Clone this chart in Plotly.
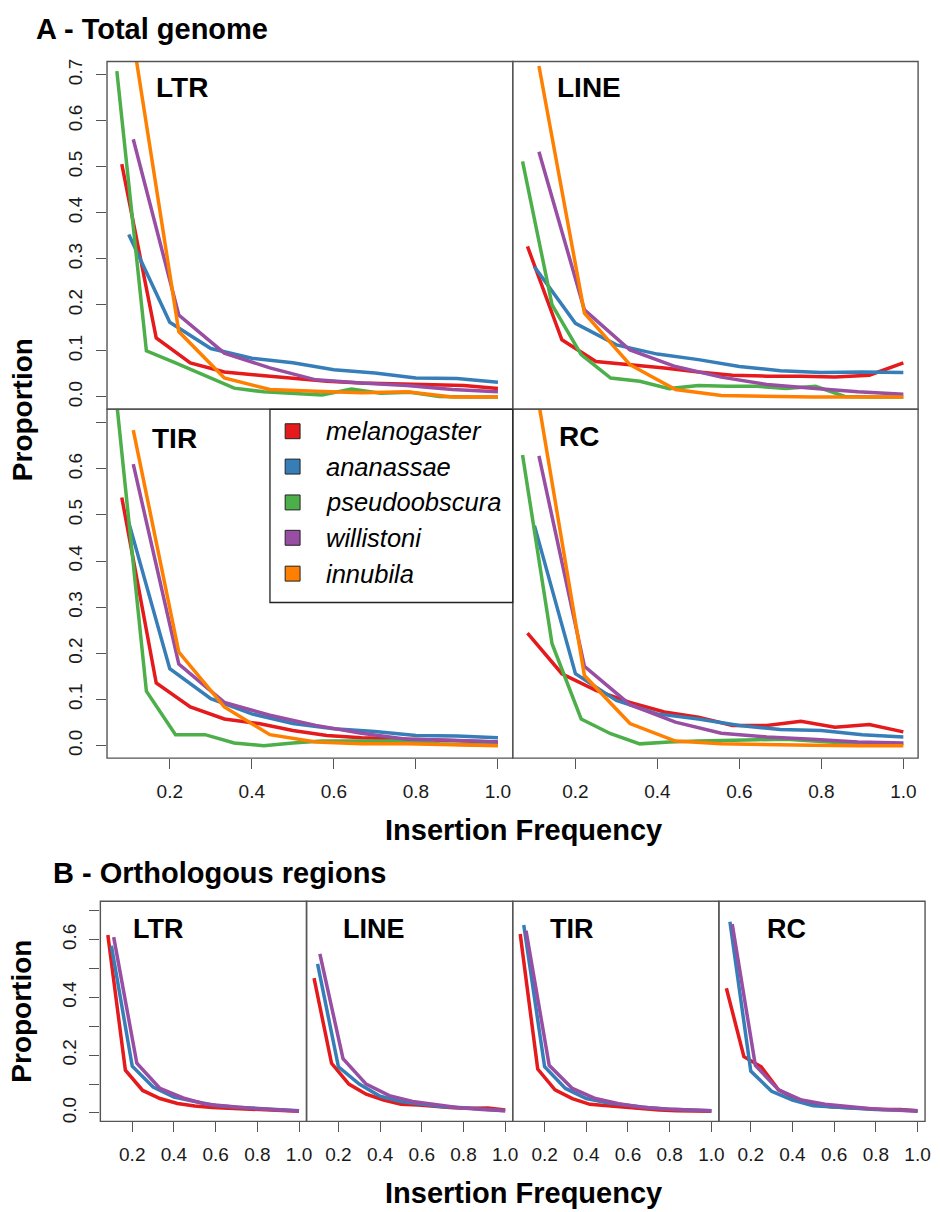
import plotly.graph_objects as go

W, H = 940, 1212

species = ["melanogaster", "ananassae", "pseudoobscura", "willistoni", "innubila"]
colors = ["#E41A1C", "#377EB8", "#4DAF4A", "#984EA3", "#FF7F00"]

# insertion-frequency bins per species (different numbers of strains)
freq_mel = [0.083, 0.167, 0.250, 0.333, 0.417, 0.500, 0.583, 0.667, 0.750, 0.833, 0.917, 1.000]
freq_ana = [0.1, 0.2, 0.3, 0.4, 0.5, 0.6, 0.7, 0.8, 0.9, 1.0]
freq_pse = [0.071, 0.143, 0.214, 0.286, 0.357, 0.429, 0.500, 0.571, 0.643, 0.714, 0.786, 0.857, 0.929, 1.000]
freq_wil = [0.111, 0.222, 0.333, 0.444, 0.556, 0.667, 0.778, 0.889, 1.000]
freq_inn = [0.111, 0.222, 0.333, 0.444, 0.556, 0.667, 0.778, 0.889, 1.000]

# ---------------- A - Total genome ----------------
ltr_mel = [0.506, 0.128, 0.074, 0.054, 0.047, 0.040, 0.034, 0.030, 0.028, 0.027, 0.025, 0.018]
ltr_ana = [0.353, 0.162, 0.105, 0.084, 0.074, 0.059, 0.052, 0.041, 0.040, 0.032]
ltr_pse = [0.708, 0.100, 0.074, 0.047, 0.019, 0.011, 0.008, 0.004, 0.017, 0.008, 0.010, 0.001, 0.0, 0.0]
ltr_wil = [0.560, 0.178, 0.095, 0.063, 0.037, 0.030, 0.025, 0.016, 0.011]
ltr_inn = [0.775, 0.142, 0.041, 0.016, 0.012, 0.009, 0.011, 0.0, 0.0]

line_mel = [0.327, 0.124, 0.077, 0.070, 0.063, 0.054, 0.047, 0.045, 0.045, 0.043, 0.047, 0.074]
line_ana = [0.283, 0.160, 0.113, 0.093, 0.081, 0.066, 0.057, 0.053, 0.054, 0.053]
line_pse = [0.512, 0.200, 0.092, 0.041, 0.034, 0.018, 0.025, 0.023, 0.023, 0.018, 0.023, 0.001, 0.0, 0.0]
line_wil = [0.533, 0.189, 0.102, 0.066, 0.043, 0.027, 0.019, 0.011, 0.006]
line_inn = [0.719, 0.182, 0.070, 0.016, 0.003, 0.001, 0.0, 0.0, 0.0]

tir_mel = [0.538, 0.136, 0.084, 0.058, 0.048, 0.033, 0.022, 0.017, 0.015, 0.013, 0.010, 0.008]
tir_ana = [0.484, 0.167, 0.102, 0.069, 0.048, 0.037, 0.031, 0.022, 0.021, 0.017]
tir_pse = [0.740, 0.118, 0.024, 0.024, 0.006, 0.0, 0.006, 0.010, 0.010, 0.010, 0.010, 0.004, 0.002, 0.002]
tir_wil = [0.610, 0.177, 0.094, 0.066, 0.044, 0.027, 0.014, 0.012, 0.008]
tir_inn = [0.684, 0.203, 0.084, 0.024, 0.008, 0.004, 0.004, 0.002, 0.0]

rc_mel = [0.244, 0.156, 0.120, 0.094, 0.073, 0.062, 0.044, 0.044, 0.053, 0.040, 0.046, 0.030]
rc_ana = [0.477, 0.156, 0.098, 0.069, 0.058, 0.044, 0.035, 0.033, 0.024, 0.019]
rc_pse = [0.630, 0.221, 0.058, 0.026, 0.004, 0.008, 0.010, 0.012, 0.013, 0.014, 0.010, 0.006, 0.004, 0.004]
rc_wil = [0.628, 0.172, 0.089, 0.051, 0.027, 0.019, 0.014, 0.008, 0.006]
rc_inn = [0.740, 0.152, 0.048, 0.010, 0.004, 0.002, 0.001, 0.0, 0.0]

# ---------------- B - Orthologous regions ----------------
o_ltr_mel = [0.616, 0.148, 0.078, 0.050, 0.033, 0.024, 0.019, 0.016, 0.013, 0.011, 0.009, 0.006]
o_ltr_ana = [0.579, 0.162, 0.090, 0.055, 0.040, 0.026, 0.020, 0.015, 0.012, 0.008]
o_ltr_wil = [0.609, 0.172, 0.085, 0.052, 0.030, 0.022, 0.016, 0.011, 0.007]

o_line_mel = [0.467, 0.172, 0.100, 0.065, 0.045, 0.030, 0.028, 0.022, 0.018, 0.016, 0.017, 0.010]
o_line_ana = [0.516, 0.160, 0.100, 0.058, 0.040, 0.030, 0.022, 0.018, 0.012, 0.008]
o_line_wil = [0.551, 0.188, 0.100, 0.060, 0.040, 0.028, 0.018, 0.012, 0.008]

o_tir_mel = [0.620, 0.152, 0.080, 0.050, 0.030, 0.025, 0.018, 0.012, 0.010, 0.008, 0.007, 0.006]
o_tir_ana = [0.651, 0.160, 0.085, 0.050, 0.035, 0.025, 0.018, 0.013, 0.010, 0.008]
o_tir_wil = [0.631, 0.165, 0.085, 0.050, 0.032, 0.020, 0.014, 0.010, 0.008]

o_rc_mel = [0.432, 0.195, 0.160, 0.080, 0.050, 0.030, 0.022, 0.018, 0.014, 0.012, 0.012, 0.008]
o_rc_ana = [0.662, 0.145, 0.075, 0.045, 0.025, 0.020, 0.017, 0.012, 0.010, 0.008]
o_rc_wil = [0.654, 0.165, 0.080, 0.045, 0.030, 0.022, 0.015, 0.010, 0.006]

x_ticks = [0.2, 0.4, 0.6, 0.8, 1.0]
x_ticktext = ["0.2", "0.4", "0.6", "0.8", "1.0"]
yA_ticks = [0.0, 0.1, 0.2, 0.3, 0.4, 0.5, 0.6, 0.7]
yA_text_full = ["0.0", "0.1", "0.2", "0.3", "0.4", "0.5", "0.6", "0.7"]
yA_text_low = ["0.0", "0.1", "0.2", "0.3", "0.4", "0.5", "0.6", ""]
yB_text = ["0.0", "", "0.2", "", "0.4", "", "0.6", ""]

FONT = "Liberation Sans, Arial, sans-serif"
AXC = "#555555"


def px(p):
    return p / W


def py(p):
    return 1 - p / H


fig = go.Figure()

freqs = [freq_mel, freq_ana, freq_pse, freq_wil, freq_inn]
subplots = [
    ((107.7, 516), (58.7, 408), [ltr_mel, ltr_ana, ltr_pse, ltr_wil, ltr_inn], False, yA_text_full, "A"),
    ((516, 924), (58.7, 408), [line_mel, line_ana, line_pse, line_wil, line_inn], False, None, "A"),
    ((107.7, 516), (408, 758.3), [tir_mel, tir_ana, tir_pse, tir_wil, tir_inn], True, yA_text_low, "A"),
    ((516, 924), (408, 758.3), [rc_mel, rc_ana, rc_pse, rc_wil, rc_inn], True, None, "A"),
    ((101, 308.5), (902, 1123), [o_ltr_mel, o_ltr_ana, None, o_ltr_wil, None], True, yB_text, "B"),
    ((308.5, 516), (902, 1123), [o_line_mel, o_line_ana, None, o_line_wil, None], True, None, "B"),
    ((516, 723.5), (902, 1123), [o_tir_mel, o_tir_ana, None, o_tir_wil, None], True, None, "B"),
    ((723.5, 931), (902, 1123), [o_rc_mel, o_rc_ana, None, o_rc_wil, None], True, None, "B"),
]

layout_axes = {}
shapes = []
for i, (xd, yd, series, showx, ytext, grp) in enumerate(subplots, start=1):
    xa = "x" if i == 1 else f"x{i}"
    ya = "y" if i == 1 else f"y{i}"
    for s_i, vals in enumerate(series):
        if vals is None:
            continue
        fig.add_trace(go.Scatter(
            x=freqs[s_i], y=vals, mode="lines",
            line=dict(color=colors[s_i], width=3.5),
            name=species[s_i], showlegend=False,
            xaxis=xa, yaxis=ya, hoverinfo="skip",
        ))
    yr = [-0.027, 0.729] if grp == "A" else [-0.029, 0.733]
    xkey = "xaxis" if i == 1 else f"xaxis{i}"
    ykey = "yaxis" if i == 1 else f"yaxis{i}"
    layout_axes[xkey] = dict(
        domain=[px(xd[0]), px(xd[1])], anchor=ya, range=[0.047, 1.036],
        showline=False, showgrid=False, zeroline=False,
        tickvals=x_ticks, ticktext=x_ticktext,
        ticks="outside" if showx else "", ticklen=10, tickwidth=1.2, tickcolor=AXC,
        showticklabels=showx, ticklabelstandoff=6,
        tickfont=dict(family=FONT, size=19, color="#1a1a1a"),
        fixedrange=True,
    )
    layout_axes[ykey] = dict(
        domain=[py(yd[1]), py(yd[0])], anchor=xa, range=yr,
        showline=False, showgrid=False, zeroline=False,
        tickvals=yA_ticks, ticktext=ytext if ytext else yA_text_full,
        ticks="outside" if ytext else "", ticklen=10, tickwidth=1.2, tickcolor=AXC,
        showticklabels=bool(ytext), tickangle=-90, ticklabelstandoff=6,
        tickfont=dict(family=FONT, size=19, color="#1a1a1a"),
        fixedrange=True,
    )
    # panel frame (shared edges coincide exactly)
    shapes.append(dict(type="rect", xref="paper", yref="paper",
                       x0=px(xd[0]), x1=px(xd[1]), y0=py(yd[1]), y1=py(yd[0]),
                       line=dict(color=AXC, width=1.4), fillcolor="rgba(0,0,0,0)", layer="above"))

fig.update_layout(**layout_axes)

annotations = []


def add_text(text, x, y, size, xanchor="left", angle=0, yanchor="middle"):
    annotations.append(dict(
        text=text, x=px(x), y=py(y), xref="paper", yref="paper",
        xanchor=xanchor, yanchor=yanchor, showarrow=False, textangle=angle,
        font=dict(family=FONT, size=size, color="#000000"),
    ))


# titles
add_text("<b>A - Total genome</b>", 34, 26, 29)
add_text("<b>B - Orthologous regions</b>", 51, 874, 29)
# panel labels
add_text("<b>LTR</b>", 155, 85, 28)
add_text("<b>LINE</b>", 559, 85, 28)
add_text("<b>TIR</b>", 151, 437, 28)
add_text("<b>RC</b>", 561, 435, 28)
add_text("<b>LTR</b>", 132, 930, 27)
add_text("<b>LINE</b>", 343, 930, 27)
add_text("<b>TIR</b>", 552, 930, 27)
add_text("<b>RC</b>", 770, 930, 27)
# axis titles
add_text("<b>Proportion</b>", 22, 408, 28, xanchor="center", angle=-90)
add_text("<b>Proportion</b>", 22, 1012, 28, xanchor="center", angle=-90)
add_text("<b>Insertion Frequency</b>", 527, 830, 29, xanchor="center")
add_text("<b>Insertion Frequency</b>", 527, 1195, 29, xanchor="center")

# legend (drawn as a boxed key)
shapes.append(dict(type="rect", xref="paper", yref="paper",
                   x0=px(271.7), x1=px(516), y0=py(602), y1=py(408),
                   line=dict(color="#222222", width=1.3), fillcolor="white", layer="above"))
leg_y = [430, 465.5, 501.5, 537, 573]
for name, col, yc in zip(species, colors, leg_y):
    shapes.append(dict(type="rect", xref="paper", yref="paper",
                       x0=px(287), x1=px(302), y0=py(yc + 7.5), y1=py(yc - 7.5),
                       line=dict(color="#222222", width=1), fillcolor=col, layer="above"))
    add_text(f"<i>{name}</i>", 326, yc, 25.5)

fig.update_layout(
    width=W, height=H, margin=dict(l=0, r=0, t=0, b=0),
    paper_bgcolor="white", plot_bgcolor="white",
    showlegend=False, annotations=annotations, shapes=shapes,
)

fig.write_html("out.html")
